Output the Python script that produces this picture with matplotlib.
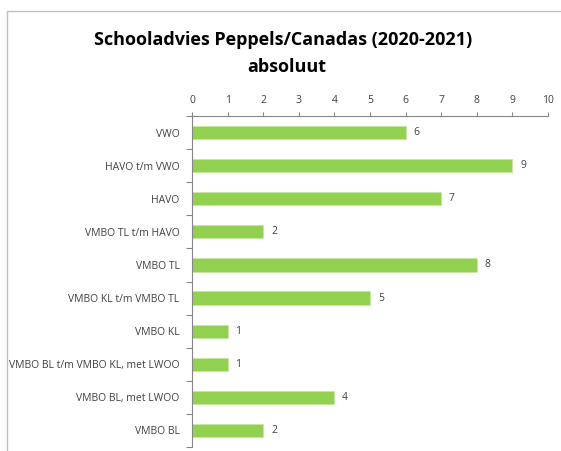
import matplotlib.pyplot as plt
from matplotlib.patches import Rectangle
from matplotlib.ticker import FixedLocator

categories = ['VWO', 'HAVO t/m VWO', 'HAVO', 'VMBO TL t/m HAVO', 'VMBO TL',
              'VMBO KL t/m VMBO TL', 'VMBO KL', 'VMBO BL t/m VMBO KL, met LWOO',
              'VMBO BL, met LWOO', 'VMBO BL']
values = [6, 9, 7, 2, 8, 5, 1, 1, 4, 2]
x_ticks = list(range(0, 11))

plt.rcParams['font.family'] = ['Open Sans', 'DejaVu Sans']

fig = plt.figure(figsize=(5.61, 4.51), dpi=100)
fig.patches.append(Rectangle((7 / 561, -0.1), 1.2, 1 - 11 / 451 + 0.1,
                             transform=fig.transFigure, fill=False,
                             edgecolor='#bfbfbf', linewidth=1.0))

ax = fig.add_axes([192 / 561, 1 - 447 / 451, 356 / 561, 331 / 451])
pos = list(range(len(categories)))
ax.barh(pos, values, height=0.4, color='#92d050', edgecolor='#c6e6a6', linewidth=0.6)
for p, v in zip(pos, values):
    ax.text(v + 0.22, p, str(v), va='center', ha='left', fontsize=7.5, color='#404040')

ax.set_xlim(0, 10)
ax.set_ylim(len(categories) - 0.5, -0.5)
ax.xaxis.tick_top()
ax.set_xticks(x_ticks)
ax.tick_params(axis='x', colors='#868686', labelcolor='#404040', labelsize=7.5,
               length=3, width=0.8, pad=4)

ax.set_yticks(pos)
ax.set_yticklabels(categories)
ax.yaxis.set_minor_locator(FixedLocator([p - 0.5 for p in pos] + [len(pos) - 0.5]))
ax.tick_params(axis='y', which='major', length=0, labelsize=7.5, labelcolor='#404040', pad=9)
ax.tick_params(axis='y', which='minor', length=4, width=0.8, colors='#868686')

for side in ['right', 'bottom']:
    ax.spines[side].set_visible(False)
for side in ['top', 'left']:
    ax.spines[side].set_color('#868686')
    ax.spines[side].set_linewidth(0.8)

fig.text(0.505, 1 - 40 / 451, 'Schooladvies Peppels/Canadas (2020-2021)',
         ha='center', va='center', fontsize=13, fontweight='bold', color='black')
fig.text(0.512, 1 - 67 / 451, 'absoluut',
         ha='center', va='center', fontsize=13, fontweight='bold', color='black')

fig.savefig('out.png', dpi=100)
